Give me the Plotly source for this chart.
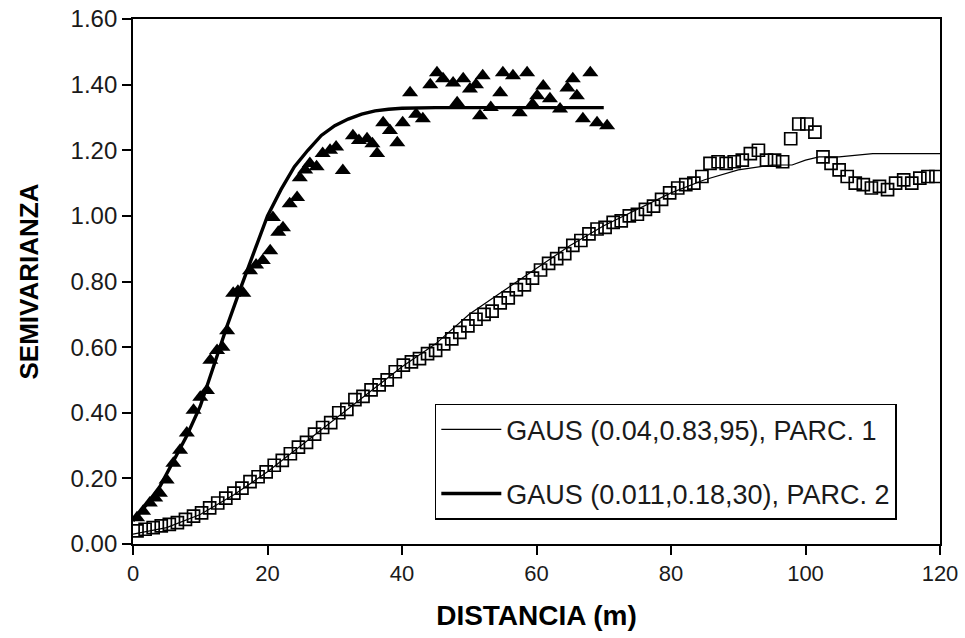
import plotly.graph_objects as go

# --- PARC. 2 experimental semivariogram (filled triangles) ---
tri_x = [0.6, 1.5, 2.5, 3.3, 4.0, 5.0, 6.0, 7.0, 8.0, 9.0, 10.0, 11.0, 11.5, 12.5, 13.3, 14.0,
         14.9, 15.6, 16.4, 17.4, 18.3, 19.3, 20.4, 20.8, 21.6, 22.3, 23.3, 24.4, 24.8, 25.6,
         26.3, 27.3, 28.2, 29.3, 30.2, 31.2, 32.7, 33.6, 34.8, 35.6, 36.3, 37.2, 38.2, 39.3,
         40.1, 41.2, 42.1, 43.1, 44.2, 45.2, 46.1, 47.6, 48.2, 49.1, 50.1, 51.0, 51.6, 52.0,
         53.2, 54.6, 55.0, 56.5, 57.5, 58.6, 59.4, 60.1, 61.0, 62.0, 63.5, 64.6, 65.4, 66.0,
         66.9, 68.0, 69.0, 70.5]
tri_y = [0.08, 0.10, 0.125, 0.14, 0.155, 0.195, 0.246, 0.286, 0.338, 0.408, 0.447, 0.468,
         0.56, 0.59, 0.60, 0.65, 0.764, 0.77, 0.764, 0.833, 0.85, 0.864, 0.894, 0.995, 0.95,
         0.964, 1.037, 1.056, 1.116, 1.14, 1.16, 1.15, 1.19, 1.20, 1.21, 1.138, 1.244, 1.23,
         1.235, 1.22, 1.19, 1.284, 1.26, 1.223, 1.284, 1.375, 1.31, 1.296, 1.40, 1.436, 1.418,
         1.405, 1.345, 1.418, 1.387, 1.40, 1.305, 1.427, 1.33, 1.375, 1.436, 1.427, 1.314,
         1.436, 1.34, 1.366, 1.396, 1.357, 1.326, 1.39, 1.418, 1.366, 1.296, 1.436, 1.284, 1.275]

# --- PARC. 1 experimental semivariogram (open squares) ---
sq_x = [0.6, 1.8, 3.0, 4.2, 5.4, 6.6, 7.8, 9.0, 10.2, 11.4, 12.6, 13.8, 15.0, 16.2, 17.4, 18.6,
        19.8, 21.0, 22.2, 23.4, 24.6, 25.8, 27.0, 28.2, 29.4, 30.6, 31.8, 33.0, 34.2, 35.4,
        36.6, 37.8, 39.0, 40.2, 41.4, 42.6, 43.8, 45.0, 46.2, 47.4, 48.6, 49.8, 51.0, 52.2,
        53.4, 54.6, 55.8, 57.0, 58.2, 59.4, 60.6, 61.8, 63.0, 64.2, 65.4, 66.6, 67.8, 69.0,
        70.2, 71.4, 72.6, 73.8, 75.0, 76.2, 77.4, 78.6, 79.8, 81.0, 82.2, 83.4, 84.6, 85.8,
        87.0, 88.2, 89.4, 90.6, 91.8, 93.0, 94.2, 95.4, 96.6, 97.8, 99.0, 100.2, 101.4, 102.6,
        103.8, 105.0, 106.2, 107.4, 108.6, 109.8, 111.0, 112.2, 113.4, 114.6, 115.8, 117.0,
        118.2, 119.4]
sq_y = [0.04, 0.045, 0.05, 0.055, 0.06, 0.065, 0.075, 0.085, 0.095, 0.11, 0.125, 0.14, 0.155,
        0.17, 0.19, 0.205, 0.22, 0.24, 0.255, 0.275, 0.295, 0.31, 0.335, 0.355, 0.37, 0.40,
        0.41, 0.44, 0.45, 0.47, 0.485, 0.50, 0.525, 0.545, 0.555, 0.565, 0.58, 0.59, 0.61,
        0.625, 0.645, 0.665, 0.685, 0.70, 0.71, 0.735, 0.75, 0.775, 0.79, 0.81, 0.835, 0.855,
        0.87, 0.885, 0.91, 0.925, 0.945, 0.96, 0.965, 0.98, 0.985, 1.0, 1.005, 1.02, 1.03,
        1.05, 1.07, 1.085, 1.095, 1.10, 1.12, 1.16, 1.165, 1.16, 1.165, 1.17, 1.19, 1.20,
        1.17, 1.17, 1.165, 1.235, 1.28, 1.28, 1.255, 1.18, 1.16, 1.14, 1.12, 1.10, 1.095,
        1.085, 1.09, 1.08, 1.10, 1.11, 1.10, 1.115, 1.12, 1.12]

# --- fitted models ---
fit1_x = [0, 5, 10, 15, 20, 25, 30, 35, 40, 45, 50, 55, 60, 65, 70, 75, 80, 85, 90, 95, 98,
          100, 102, 105, 110, 115, 120]
fit1_y = [0.03, 0.05, 0.09, 0.15, 0.22, 0.30, 0.38, 0.46, 0.54, 0.61, 0.70, 0.77, 0.84, 0.91,
          0.97, 1.02, 1.07, 1.11, 1.14, 1.155, 1.155, 1.17, 1.18, 1.18, 1.19, 1.19, 1.19]
fit2_x = [0, 2, 4, 6, 8, 10, 12, 14, 16, 18, 20, 22, 24, 26, 28, 30, 32, 34, 36, 38, 40, 45,
          50, 55, 60, 65, 70]
fit2_y = [0.07, 0.12, 0.175, 0.25, 0.33, 0.42, 0.545, 0.665, 0.78, 0.89, 1.00, 1.08, 1.15,
          1.20, 1.245, 1.275, 1.295, 1.31, 1.32, 1.325, 1.328, 1.33, 1.33, 1.33, 1.33, 1.33, 1.33]

fit1_name = "GAUS (0.04,0.83,95), PARC. 1"
fit2_name = "GAUS (0.011,0.18,30), PARC. 2"
x_title = "DISTANCIA (m)"
y_title = "SEMIVARIANZA"

fig = go.Figure()
fig.add_trace(go.Scatter(x=sq_x, y=sq_y, mode="markers", showlegend=False,
                         marker=dict(symbol="square-open", size=12, color="black",
                                     line=dict(width=1.7, color="black"))))
fig.add_trace(go.Scatter(x=tri_x, y=tri_y, mode="markers", showlegend=False,
                         marker=dict(symbol="triangle-up", size=14, color="black",
                                     line=dict(width=0))))
fig.add_trace(go.Scatter(x=fit1_x, y=fit1_y, mode="lines", name=fit1_name, legendgroup="a",
                         line=dict(color="black", width=1.2)))
fig.add_trace(go.Scatter(x=fit2_x, y=fit2_y, mode="lines", name=fit2_name, legendgroup="b",
                         line=dict(color="black", width=3.4)))

base = "Liberation Sans, Arial, sans-serif"
ytick_font = dict(family=base, size=24, color="#1a1a1a")
xtick_font = dict(family=base, size=22, color="#1a1a1a")

fig.update_layout(
    width=965, height=638,
    margin=dict(l=133, r=25, t=19, b=94, autoexpand=False),
    paper_bgcolor="white", plot_bgcolor="white",
    font=dict(family=base, size=20, color="#1a1a1a"),
    xaxis=dict(range=[0, 120], dtick=20, tick0=0, showgrid=False, zeroline=False,
               showline=True, linecolor="black", linewidth=1.8, mirror=True,
               ticks="outside", ticklen=9, tickwidth=1.5, tickcolor="black",
               tickfont=xtick_font, automargin=False, ticklabeloverflow="allow",
               title=dict(text="<b>" + x_title + "</b>",
                          font=dict(family=base, size=28, color="black"), standoff=20)),
    yaxis=dict(range=[0, 1.6], dtick=0.2, tick0=0, tickformat=".2f", showgrid=False,
               zeroline=False, showline=True, linecolor="black", linewidth=1.8, mirror=True,
               ticks="outside", ticklen=9, tickwidth=1.5, tickcolor="black",
               tickfont=ytick_font, automargin=False, ticklabeloverflow="allow",
               title=dict(text="<b>" + y_title + "</b>",
                          font=dict(family=base, size=26, color="black"), standoff=24)),
    legend=dict(x=0.374, y=0.267, xanchor="left", yanchor="top",
                bordercolor="black", borderwidth=1.5, bgcolor="white",
                font=dict(family=base, size=27, color="#1a1a1a"),
                tracegroupgap=26, itemwidth=60),
)

# remove the default 8px page margin so the figure fills the 965x638 window
fig.write_html("out.html",
               config={"displayModeBar": False},
               post_script="document.body.style.margin='0';document.body.style.overflow='hidden';")
